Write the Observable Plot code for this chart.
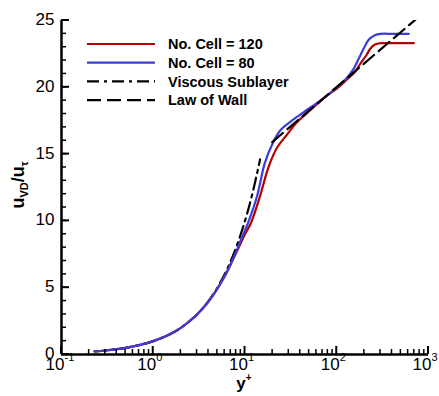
<!DOCTYPE html>
<html><head><meta charset="utf-8">
<script src="https://cdn.jsdelivr.net/npm/d3@7"></script>
<script src="https://cdn.jsdelivr.net/npm/@observablehq/plot@0.6"></script>
<style>
body{margin:0;background:#fff;}
svg{font-family:"Liberation Sans",Arial,Helvetica,sans-serif;}
</style>
</head><body><div id="chart"></div>
<script>
// ---- data ----
const yPlus120 = [0.23,0.3,0.4,0.5,0.7,1,1.5,2,3,4,5,6,7,8,9,10,11.7,14.5,18,22,29,37,48,60,79,100,130,160,182,210,233,260,300,400,692];
const u120     = [0.23,0.3,0.4,0.5,0.7,1,1.5,2,3,3.97,4.93,5.85,6.75,7.6,8.35,9.0,9.9,11.8,14.0,15.4,16.5,17.4,18.1,18.7,19.4,19.9,20.6,21.2,21.8,22.4,22.9,23.2,23.3,23.3,23.3];
const yPlus80  = [0.23,0.3,0.4,0.5,0.7,1,1.5,2,3,4,5,6,7,8,9,10,11,13.6,16.4,20,24.4,31,38,46,60,79,100,125,150,175,200,225,260,300,400,610];
const u80      = [0.23,0.3,0.4,0.5,0.7,1,1.5,2,3,3.97,4.93,5.85,6.8,7.7,8.55,9.3,10.0,11.9,14.3,15.8,16.8,17.4,17.85,18.25,18.8,19.4,20.0,20.6,21.3,22.2,23.0,23.6,23.9,24.0,24.0,24.0];
const yPlusVisc = [0.23,0.3,0.4,0.5,0.7,1,1.5,2,3,4,5,6,7,8,10,12,14.6];
const uVisc     = [0.23,0.3,0.4,0.5,0.7,1,1.5,2,3,4,5,6,7,8,10,12,14.6];
const yPlusLaw = [19.8, 760];
const uLaw     = [15.9, 25.2];

const yMajor = [0,5,10,15,20,25];
const yMinor = d3.range(0,26,1);
const xMajor = [0.1,1,10,100,1000];
const xExp   = ["-1","0","1","2","3"];
const xMinor = [2,3,4,5,6,7,8,9].flatMap(m => [0.1,1,10,100].map(d => m*d));

const seriesNames = ["No. Cell = 120","No. Cell = 80","Viscous Sublayer","Law of Wall"];
const seriesColors = ["#b40000","#3c3cdc","#000","#000"];
const seriesDash = [null,null,"12,5,3,5","14,6"];

const toRows = (xs, ys) => xs.map((x,i) => ({x, y: ys[i]}));

const plot = Plot.plot({
  width: 439, height: 396,
  marginLeft: 61, marginRight: 11, marginTop: 20, marginBottom: 42,
  x: {type: "log", domain: [0.1, 1000], axis: null},
  y: {domain: [0, 25], axis: null},
  marks: [
    Plot.line(toRows(yPlusVisc, uVisc), {x:"x", y:"y", stroke: seriesColors[2], strokeWidth: 2.2, strokeDasharray: seriesDash[2], curve: "catmull-rom", clip: true}),
    Plot.line(toRows(yPlus120, u120), {x:"x", y:"y", stroke: seriesColors[0], strokeWidth: 2.2, curve: "catmull-rom", clip: true}),
    Plot.line(toRows(yPlus80, u80), {x:"x", y:"y", stroke: seriesColors[1], strokeWidth: 2.2, curve: "catmull-rom", clip: true}),
    Plot.line(toRows(yPlusLaw, uLaw), {x:"x", y:"y", stroke: seriesColors[3], strokeWidth: 2.2, strokeDasharray: seriesDash[3], clip: true}),
    Plot.ruleY([0], {strokeWidth: 2.5}),
    Plot.ruleX([0.1], {strokeWidth: 2.5}),
    Plot.text(yMajor, {y: d => d, frameAnchor: "left", dx: -7, dy: -1, textAnchor: "end", text: d => String(d), fontSize: 17, fill: "#000"}),
    Plot.text(xMajor, {x: d => d, frameAnchor: "bottom", dx: 3, dy: 15, textAnchor: "end", text: () => "10", fontSize: 17, fill: "#000"}),
    Plot.text(xMajor, {x: d => d, frameAnchor: "bottom", dx: 3, dy: 6, textAnchor: "start", text: (d,i) => xExp[i], fontSize: 11, fill: "#000"})
  ]
});

const svg = d3.select(plot);
const sx = plot.scale("x"), sy = plot.scale("y");
const x0 = sx.apply(0.1), y0 = sy.apply(0);

// inward ticks placed with Plot's own scales
const tg = svg.append("g").attr("stroke", "#000").attr("fill", "none");
const addX = (vals, len, w) => vals.forEach(v => {
  const px = sx.apply(v);
  tg.append("line").attr("x1", px).attr("x2", px).attr("y1", y0).attr("y2", y0 - len).attr("stroke-width", w);
});
const addY = (vals, len, w) => vals.forEach(v => {
  const py = sy.apply(v);
  tg.append("line").attr("x1", x0).attr("x2", x0 + len).attr("y1", py).attr("y2", py).attr("stroke-width", w);
});
addX(xMinor, 5, 1.5); addX(xMajor, 8, 2);
addY(yMinor, 5, 1.5); addY(yMajor, 8, 2);

// axis titles
const yl = svg.append("text")
  .attr("transform", "translate(24,185) rotate(-90)")
  .attr("text-anchor", "middle").attr("font-weight", "bold").attr("fill", "#000");
yl.append("tspan").attr("font-size", 18).text("u");
yl.append("tspan").attr("font-size", 11).attr("dy", 4).text("VD");
yl.append("tspan").attr("font-size", 18).attr("dy", -4).text("/u");
yl.append("tspan").attr("font-size", 11).attr("dy", 4).text("τ");

const xl = svg.append("text").attr("x", 244).attr("y", 389)
  .attr("text-anchor", "middle").attr("font-weight", "bold").attr("fill", "#000");
xl.append("tspan").attr("font-size", 17).text("y");
xl.append("tspan").attr("font-size", 10).attr("dy", -8).text("+");

// legend
const lg = svg.append("g").attr("text-anchor", "start");
seriesNames.forEach((name, i) => {
  const yy = 44 + i * 18.7;
  lg.append("line").attr("x1", 87).attr("x2", 155).attr("y1", yy).attr("y2", yy)
    .attr("stroke", seriesColors[i]).attr("stroke-width", 2.2)
    .attr("stroke-dasharray", seriesDash[i]);
  lg.append("text").attr("x", 168).attr("y", yy).attr("dy", "0.36em")
    .attr("text-anchor", "start")
    .attr("font-size", 14.5).attr("font-weight", "bold").attr("fill", "#000").text(name);
});

document.getElementById("chart").appendChild(plot);
</script>
</body></html>
